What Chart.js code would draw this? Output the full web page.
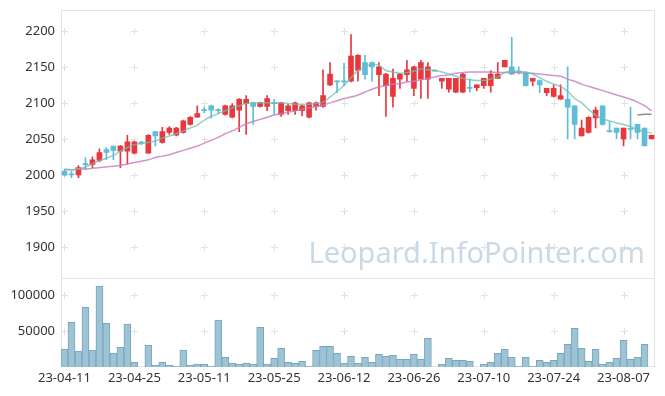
<!DOCTYPE html>
<html><head><meta charset="utf-8">
<script src="https://cdn.jsdelivr.net/npm/chart.js@4"></script>
<style>
html,body{margin:0;padding:0;background:#fff;}
#wrap{position:relative;width:665px;height:396px;}
#wm{position:absolute;left:280px;top:232px;width:365px;text-align:right;font-family:"Noto Sans",sans-serif;font-size:29px;line-height:40px;color:#c9d9e5;pointer-events:none;white-space:nowrap;}
</style></head>
<body><div id="wrap"><canvas id="c" width="665" height="396"></canvas><div id="wm">Leopard.InfoPointer.com</div></div>
<script>
const dates=['23-04-11','23-04-12','23-04-13','23-04-14','23-04-17','23-04-18','23-04-19','23-04-20','23-04-21','23-04-24',
'23-04-25','23-04-26','23-04-27','23-04-28','23-05-02','23-05-03','23-05-04','23-05-08','23-05-09','23-05-10',
'23-05-11','23-05-12','23-05-15','23-05-16','23-05-17','23-05-18','23-05-19','23-05-22','23-05-23','23-05-24',
'23-05-25','23-05-26','23-05-30','23-05-31','23-06-01','23-06-02','23-06-05','23-06-07','23-06-08','23-06-09',
'23-06-12','23-06-13','23-06-14','23-06-15','23-06-16','23-06-19','23-06-20','23-06-21','23-06-22','23-06-23',
'23-06-26','23-06-27','23-06-28','23-06-29','23-06-30','23-07-03','23-07-04','23-07-05','23-07-06','23-07-07',
'23-07-10','23-07-11','23-07-12','23-07-13','23-07-14','23-07-17','23-07-18','23-07-19','23-07-20','23-07-21',
'23-07-24','23-07-25','23-07-26','23-07-27','23-07-28','23-07-31','23-08-01','23-08-02','23-08-03','23-08-04',
'23-08-07','23-08-08','23-08-09','23-08-10','23-08-11'];

const opens=[2005,2001.5,2000,2015.5,2014,2020,2035,2040,2033,2033,
2030,2045.5,2030,2060,2045,2059,2055,2059,2070,2080,
2090.5,2096,2090.5,2084,2080,2090,2099,2100,2095,2095,
2100.5,2084,2089,2089,2089,2080,2095,2095,2125,2130.5,
2130.5,2130,2145,2156,2156,2139,2124,2109,2133,2139,
2120,2133,2133,2145.5,2130,2119,2115,2115,2121.5,2121,
2124,2124,2134,2150,2150,2143.5,2142,2130,2131,2114,
2109,2105,2105,2096,2054,2059,2079,2096,2061.5,2065,
2050,2064.5,2070,2065,2050];
const highs=[2008,2005,2013,2024,2025,2036,2038,2040,2041,2055,
2047,2047,2056,2060,2066,2067,2066,2076,2081,2096,
2094,2097,2092,2097,2099,2106,2110,2101,2101,2110,
2105,2101,2098,2101,2097,2101,2101,2146,2156,2131,
2155,2195,2167,2166,2157,2156,2141,2147,2141,2159,
2151,2159,2156,2146,2134,2134,2134,2141,2133,2125,
2134,2145,2156,2159,2191,2150,2143,2134,2132,2120,
2125,2125,2150,2096,2076,2081,2094,2096,2074,2065,
2065,2094,2070,2065,2055];
const lows=[1998,1996,1996,2007,2010,2018,2021,2021,2010,2015,
2029,2042,2030,2040,2044,2056,2054,2058,2069,2080,
2086,2079,2085,2083,2079,2060,2056,2070,2094,2089,
2084,2081,2084,2084,2082,2079,2090,2094,2124,2114,
2124,2129,2130,2133,2130,2110,2081,2094,2120,2130,
2110,2106,2106,2144,2120,2115,2114,2114,2115,2117,
2120,2115,2134,2150,2139,2140,2123,2124,2114,2110,
2108,2105,2050,2050,2054,2058,2065,2069,2059,2050,
2040,2050,2050,2040,2050];
const closes=[2000,2000,2010,2014,2021,2031,2031,2034,2040,2046,
2046,2044,2055,2054,2060,2065,2065,2075,2080,2085,
2089,2090,2089,2096,2096,2105,2105,2095,2100,2106,
2099,2100,2096,2100,2096,2100,2100,2110,2140,2129,
2129,2165,2166,2139,2150,2150,2140,2134,2140,2146,
2150,2156,2150,2144,2134,2134,2134,2140,2120,2125,
2134,2140,2140,2159,2140,2142,2124,2134,2125,2120,
2120,2110,2094,2070,2065,2080,2090,2070,2060,2059,
2065,2063,2059,2040,2055];
const volumes=[25000,62000,22200,83000,23600,112500,60600,19400,27300,59700,
6500,0,30100,2800,6500,2800,1400,23600,2800,4200,
4200,1400,65300,13400,5500,4200,5500,4200,55100,4200,
12000,25900,6500,5000,7900,1400,23100,28700,28700,19000,
5000,14800,5000,13400,6500,17600,14800,16200,10700,10700,
17600,10700,39800,0,4200,12000,9300,9300,7900,0,
4200,6500,19000,24500,13400,1400,13400,1400,9300,6500,
9300,19000,31500,53700,25900,7900,24500,4200,6500,12000,
37000,10700,13400,31500,0];
const ma5=[2008,2007,2008,2011,2015,2020,2023,2027,2033,2038,
2042,2044,2045,2047,2051,2054,2057,2061,2065,2069,
2076,2081,2085,2089,2093,2096,2099,2100,2100,2100,
2100,2100,2099,2098,2098,2098,2099,2101,2108,2116,
2124,2135,2145,2150,2154,2152,2145,2143,2141,2142,
2144,2147,2146,2145,2143,2140,2137,2134,2132,2131,
2131,2133,2136,2142,2144,2144,2143,2140,2135,2130,
2126,2123,2116,2106,2100,2091,2083,2078,2075,2072,
2070,2067,2063,2060,2058];
const ma20=[2007,2007,2008,2008,2009,2010,2011,2012,2013,2015,
2017,2019,2021,2024,2026,2028,2031,2034,2037,2040,
2044,2048,2052,2057,2061,2066,2071,2074,2077,2080,
2083,2085,2087,2089,2091,2093,2095,2097,2100,2103,
2106,2108,2111,2115,2119,2122,2124,2126,2127,2129,
2130,2132,2134,2136,2138,2139,2141,2142,2143,2143,
2143,2143,2142,2142,2142,2142,2141,2141,2140,2139,
2138,2137,2133,2130,2126,2123,2120,2117,2114,2111,
2108,2105,2101,2096,2089];
const ma60=[null,null,null,null,null,null,null,null,null,null,
null,null,null,null,null,null,null,null,null,null,
null,null,null,null,null,null,null,null,null,null,
null,null,null,null,null,null,null,null,null,null,
null,null,null,null,null,null,null,null,null,null,
null,null,null,null,null,null,null,null,null,null,
null,null,null,null,null,null,null,null,null,null,
null,null,null,null,null,null,null,null,null,null,
null,null,2083,2084,2084];
const priceTicks=[1900,1950,2000,2050,2100,2150,2200];
const volumeTicks=[50000,100000];

const upColor='#e8383d', downColor='#5fbdd7';
const candleColors=closes.map((c,i)=>c>=opens[i]?upColor:downColor);
const FONT='"Noto Sans", "Noto Sans CJK KR", sans-serif';

const framePlugin={
  id:'frame',
  beforeDatasetsDraw(chart){
    const ctx=chart.ctx, a=chart.chartArea, sx=chart.scales.x, sy=chart.scales.y, sv=chart.scales.yv;
    ctx.save();
    ctx.strokeStyle='#e3e3e3'; ctx.lineWidth=1;
    ctx.strokeRect(Math.round(a.left)+0.5, Math.round(a.top)+0.5, Math.round(a.right-a.left)-1, Math.round(a.bottom-a.top)-1);
    ctx.beginPath();
    const sep=Math.round(sy.bottom)+0.5;
    ctx.moveTo(a.left,sep); ctx.lineTo(a.right,sep); ctx.stroke();
    ctx.strokeStyle='#e2e2e2';
    const xs=[];
    for(let i=0;i<dates.length;i+=10) xs.push(Math.round(sx.getPixelForValue(i)));
    const ys=priceTicks.map(v=>Math.round(sy.getPixelForValue(v))).concat(volumeTicks.map(v=>Math.round(sv.getPixelForValue(v))));
    ctx.beginPath();
    xs.forEach(x=>ys.forEach(y=>{
      ctx.moveTo(x-3,y+0.5); ctx.lineTo(x+4,y+0.5);
      ctx.moveTo(x+0.5,y-3); ctx.lineTo(x+0.5,y+4);
    }));
    ctx.stroke();
    ctx.restore();
  }
};
function noPad(s){s.paddingTop=0;s.paddingBottom=0;s.paddingLeft=0;s.paddingRight=0;}

new Chart(document.getElementById('c'),{
  type:'bar',
  data:{labels:dates,datasets:[
    {type:'line',data:ma5,borderColor:'rgba(110,192,172,0.75)',borderWidth:1.5,pointRadius:0,cubicInterpolationMode:'monotone',yAxisID:'y',order:0},
    {type:'line',data:ma20,borderColor:'rgba(196,122,192,0.8)',borderWidth:1.5,pointRadius:0,cubicInterpolationMode:'monotone',yAxisID:'y',order:0},
    {type:'line',data:ma60,borderColor:'rgba(120,120,120,0.85)',borderWidth:1.5,pointRadius:0,yAxisID:'y',order:0},
    {data:highs.map((h,i)=>[lows[i],h]),backgroundColor:candleColors,barThickness:1,grouped:false,yAxisID:'y',order:2},
    {data:opens.map((o,i)=>[o,closes[i]]),backgroundColor:candleColors,barThickness:5,grouped:false,yAxisID:'y',order:1},
    {data:volumes,backgroundColor:'#9dc3d4',borderColor:'#78a7bd',borderWidth:1,barPercentage:1,categoryPercentage:1,grouped:false,yAxisID:'yv',order:3}
  ]},
  options:{
    responsive:false,animation:false,
    layout:{padding:{top:10,right:10,left:0,bottom:0}},
    plugins:{legend:{display:false},tooltip:{enabled:false}},
    scales:{
      x:{grid:{display:false,drawTicks:false},border:{display:false},
        ticks:{autoSkip:false,maxRotation:0,minRotation:0,padding:3,color:'#333',font:{size:13,family:FONT},
          callback:(v,i)=>i%10===0?dates[i]:''},
        afterFit:s=>{s.height=29;noPad(s);}},
      yv:{stack:'p',stackWeight:1,position:'left',min:0,max:124000,
        grid:{display:false,drawTicks:false},border:{display:false},
        ticks:{padding:6,color:'#333',font:{size:13,family:FONT},callback:v=>String(v)},
        afterBuildTicks:s=>{s.ticks=volumeTicks.map(v=>({value:v}));},
        afterFit:s=>{s.width=61;noPad(s);}},
      y:{stack:'p',stackWeight:3,position:'left',min:1857,max:2229,
        grid:{display:false,drawTicks:false},border:{display:false},
        ticks:{padding:6,color:'#333',font:{size:13,family:FONT},callback:v=>String(v)},
        afterBuildTicks:s=>{s.ticks=priceTicks.map(v=>({value:v}));},
        afterFit:s=>{s.width=61;noPad(s);}}
    }
  },
  plugins:[framePlugin]
});
</script>
</body></html>
